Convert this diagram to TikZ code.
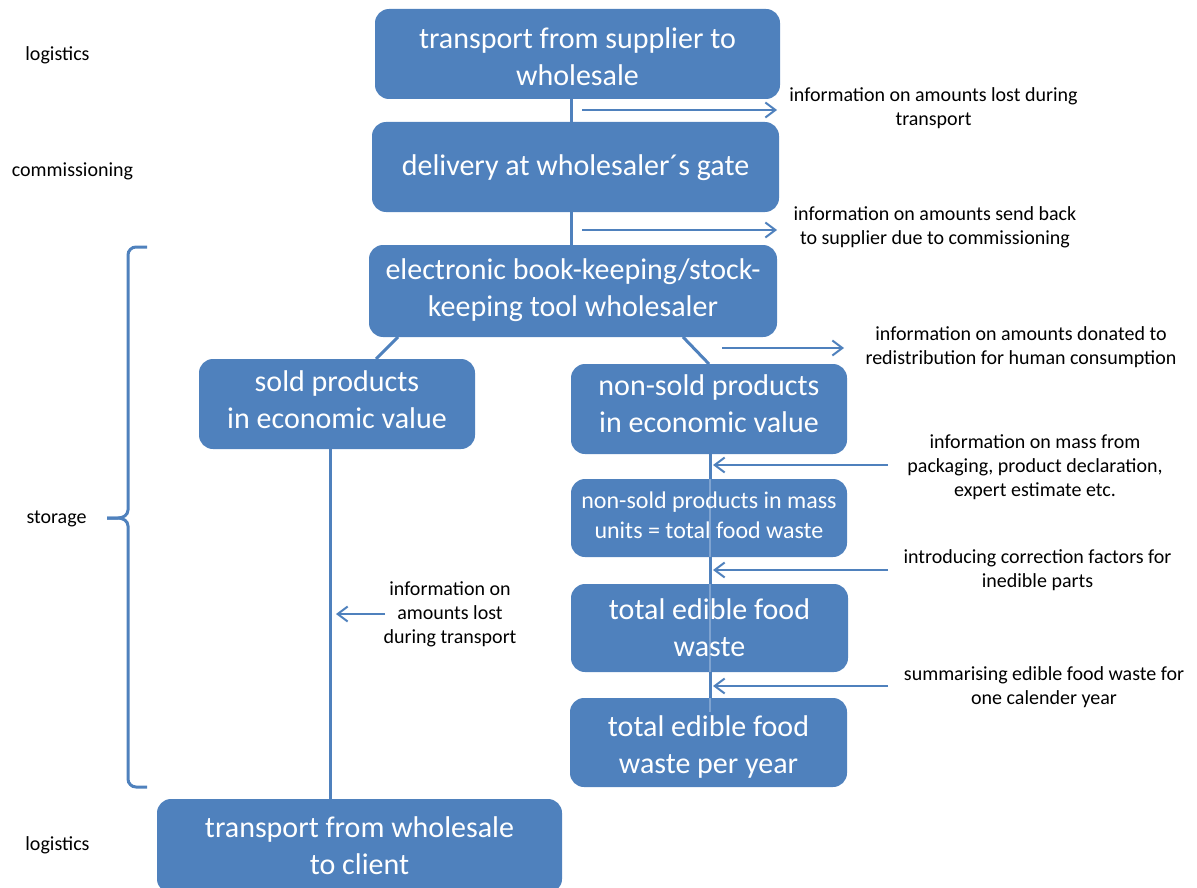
\documentclass[tikz,border=0pt]{standalone}
\usepackage{fontspec}
\setmainfont{Carlito}
\usetikzlibrary{arrows.meta}
\definecolor{boxblue}{HTML}{4F81BD}
\definecolor{thinblue}{HTML}{7FA3D0}
\begin{document}
\begin{tikzpicture}[x=1pt,y=-1pt,
  box/.style={fill=boxblue, rounded corners=14pt, inner sep=0pt},
  boxtext/.style={text=white, align=center, inner sep=0pt, font=\fontsize{30}{37}\selectfont},
  smalltext/.style={boxtext, font=\fontsize{24}{30}\selectfont},
  lbl/.style={align=center, inner sep=0pt, font=\fontsize{20}{24}\selectfont},
  conn/.style={draw=boxblue, line width=3pt},
  infoarrow/.style={draw=boxblue, line width=2pt, -{Straight Barb[length=10pt,width=15pt,line width=2pt]}},
  bracestyle/.style={draw=boxblue, line width=3pt},
  through/.style={draw=thinblue, line width=2pt}]
\useasboundingbox (0,0) rectangle (1197,888);

% boxes
\node[box, minimum width=405pt, minimum height=90pt] (A) at (577.5,54) {};
\node[box, minimum width=407pt, minimum height=90pt] (B) at (575.5,167) {};
\node[box, minimum width=408pt, minimum height=92pt] (C) at (573,291) {};
\node[box, minimum width=276pt, minimum height=90pt] (D) at (337,404) {};
\node[box, minimum width=276pt, minimum height=90pt] (E) at (709,409) {};
\node[box, minimum width=276pt, minimum height=78pt] (F) at (709,518) {};
\node[box, minimum width=277pt, minimum height=88pt] (G) at (709.5,628) {};
\node[box, minimum width=277pt, minimum height=89pt] (H) at (708.5,742.5) {};
\node[box, minimum width=405pt, minimum height=94pt] (I) at (359.5,846) {};

% vertical connectors
\coordinate (xa) at (571,0);
\coordinate (xe) at (710,0);
\coordinate (xd) at (330,0);
\draw[conn] (A.south -| xa) -- (B.north -| xa);
\draw[conn] (B.south -| xa) -- (C.north -| xa);
\draw[conn] (E.south -| xe) -- (F.north -| xe);
\draw[conn] (F.south -| xe) -- (G.north -| xe);
\draw[conn] (G.south -| xe) -- (H.north -| xe);
\draw[through] (F.north -| xe) -- (F.south -| xe);
\draw[through] (G.north -| xe) -- (G.south -| xe);
\draw[through] (H.north -| xe) -- ([yshift=-14pt]H.north -| xe);
\draw[conn] (D.south -| xd) -- (I.north -| xd);

% box texts
\node[boxtext] (At) at ([yshift=-3pt]A.center) {transport from supplier to\\wholesale};
\node[boxtext] (Bt) at ([yshift=-1pt]B.center) {delivery at wholesaler´s gate};
\node[boxtext] (Ct) at ([yshift=1pt]C.center) {electronic book-keeping/stock-\\keeping tool wholesaler};
\node[boxtext] (Dt) at ([yshift=4pt]D.center) {sold products\\in economic value};
\node[boxtext] (Et) at ([yshift=5pt]E.center) {non-sold products\\in economic value};
\node[smalltext] (Ft) at ([yshift=3pt]F.center) {non-sold products in mass\\units = total food waste};
\node[boxtext] (Gt) at (G.center) {total edible food\\waste};
\node[boxtext] (Ht) at ([yshift=-4pt]H.center) {total edible food\\waste per year};
\node[boxtext] (It) at (I.center) {transport from wholesale\\to client};

% diagonal connectors
\coordinate (cl) at (398,337);
\coordinate (dl) at (376,359);
\coordinate (cr) at (683,337);
\coordinate (er) at (709,364);
\draw[conn] (cl) -- (dl);
\draw[conn] (cr) -- (er);

% info arrows
\coordinate (r1s) at (582,110); \coordinate (r1e) at (777,110);
\coordinate (r2s) at (582,230); \coordinate (r2e) at (777,230);
\coordinate (r3s) at (722,348); \coordinate (r3e) at (844,348);
\coordinate (l1s) at (888,465); \coordinate (l1e) at (713,465);
\coordinate (l2s) at (888,570); \coordinate (l2e) at (713,570);
\coordinate (l3s) at (888,686); \coordinate (l3e) at (713,686);
\coordinate (l4s) at (385,614); \coordinate (l4e) at (336,614);
\draw[infoarrow] (r1s) -- (r1e);
\draw[infoarrow] (r2s) -- (r2e);
\draw[infoarrow] (r3s) -- (r3e);
\draw[infoarrow] (l1s) -- (l1e);
\draw[infoarrow] (l2s) -- (l2e);
\draw[infoarrow] (l3s) -- (l3e);
\draw[infoarrow] (l4s) -- (l4e);

% info labels
\node[lbl] (t1) at (933.5,108) {information on amounts lost during\\transport};
\node[lbl] (t2) at (935,227) {information on amounts send back\\to supplier due to commissioning};
\node[lbl] (t3) at (1021,347) {information on amounts donated to\\redistribution for human consumption};
\node[lbl] (t4) at (1035,467) {information on mass from\\packaging, product declaration,\\expert estimate etc.};
\node[lbl] (t5) at (1037.5,570) {introducing correction factors for\\inedible parts};
\node[lbl] (t6) at (1044,687) {summarising edible food waste for\\one calender year};
\node[lbl] (t7) at (450,614) {information on\\amounts lost\\during transport};

% stage labels
\node[lbl] (s1) at (57.5,55) {logistics};
\node[lbl] (s2) at (72.5,171) {commissioning};
\node[lbl] (s3) at (56.5,519) {storage};
\node[lbl] (s4) at (57.5,845) {logistics};

% brace
\draw[bracestyle] (147,247) -- (136,247) to[out=180,in=90] (128,255) -- (128,510)
  to[out=-90,in=0] (118,518) -- (107,518);
\draw[bracestyle] (107,518) -- (118,518) to[out=0,in=90] (128,526) -- (128,779)
  to[out=-90,in=180] (136,787) -- (147,787);
\end{tikzpicture}
\end{document}
